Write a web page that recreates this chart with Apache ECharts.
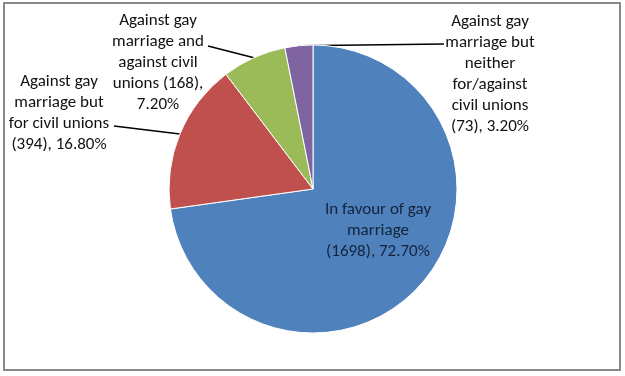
<!DOCTYPE html>
<html>
<head>
<meta charset="utf-8">
<script src="https://cdn.jsdelivr.net/npm/echarts@6/dist/echarts.min.js"></script>
<style>
  html, body { margin: 0; padding: 0; background: #fff; }
  #chart { width: 625px; height: 376px; }
</style>
</head>
<body>
<div id="chart"></div>
<script>
const categories = [
  "In favour of gay marriage",
  "Against gay marriage but for civil unions",
  "Against gay marriage and against civil unions",
  "Against gay marriage but neither for/against civil unions",
];
const counts = [1698, 394, 168, 73];
const labelTexts = [
  "In favour of gay\nmarriage\n(1698), 72.70%",
  "Against gay\nmarriage but\nfor civil unions\n(394), 16.80%",
  "Against gay\nmarriage and\nagainst civil\nunions (168),\n7.20%",
  "Against gay\nmarriage but\nneither\nfor/against\ncivil unions\n(73), 3.20%",
];
const colors = ["#4F81BD", "#C0504D", "#9BBB59", "#8064A2"];

// where each label sits and where its leader line ends (null = no line)
const labelSpots = [
  { x: 378, y: 231, end: null },
  { x: 59, y: 113, end: [114, 126] },
  { x: 158, y: 63, end: [208, 46] },
  { x: 490, y: 74, end: [444, 44] },
];

const cx = 313, cy = 189, r = 144;
const total = counts.reduce((a, b) => a + b, 0);

// point on the rim at the middle of slice i (clockwise from 12 o'clock)
const rimPoint = (i) => {
  const before = counts.slice(0, i).reduce((a, b) => a + b, 0);
  const a = ((before + counts[i] / 2) / total) * Math.PI * 2;
  return [cx + r * Math.sin(a), cy - r * Math.cos(a)];
};

const chart = echarts.init(document.getElementById("chart"));

chart.setOption({
  animation: false,
  graphic: [
    {
      type: "rect",
      shape: { x: 4, y: 3, width: 616, height: 367 },
      style: { fill: "none", stroke: "#8a8a8a", lineWidth: 2 },
    },
  ],
  series: [
    {
      type: "pie",
      center: [cx, cy],
      radius: r,
      startAngle: 90,
      clockwise: true,
      avoidLabelOverlap: false,
      itemStyle: { borderColor: "#ffffff", borderWidth: 1 },
      label: {
        show: true,
        position: "outside",
        fontFamily: "Carlito, Lato, sans-serif",
        fontSize: 17,
        lineHeight: 21,
        color: "#111111",
        align: "center",
        formatter: (p) => labelTexts[p.dataIndex],
      },
      labelLine: {
        show: true,
        length: 10,
        length2: 10,
        lineStyle: { color: "#000000", width: 1.5 },
      },
      labelLayout: (params) => {
        const spot = labelSpots[params.dataIndex];
        const out = {
          x: spot.x,
          y: spot.y,
          align: "center",
          verticalAlign: "middle",
        };
        if (spot.end) {
          out.labelLinePoints = [rimPoint(params.dataIndex), spot.end];
        }
        return out;
      },
      data: categories.map((name, i) => ({
        name,
        value: counts[i],
        itemStyle: { color: colors[i] },
        label: i === 0 ? { color: "#13233d" } : {},
        labelLine: i === 0 ? { show: false } : {},
      })),
    },
  ],
});
</script>
</body>
</html>
